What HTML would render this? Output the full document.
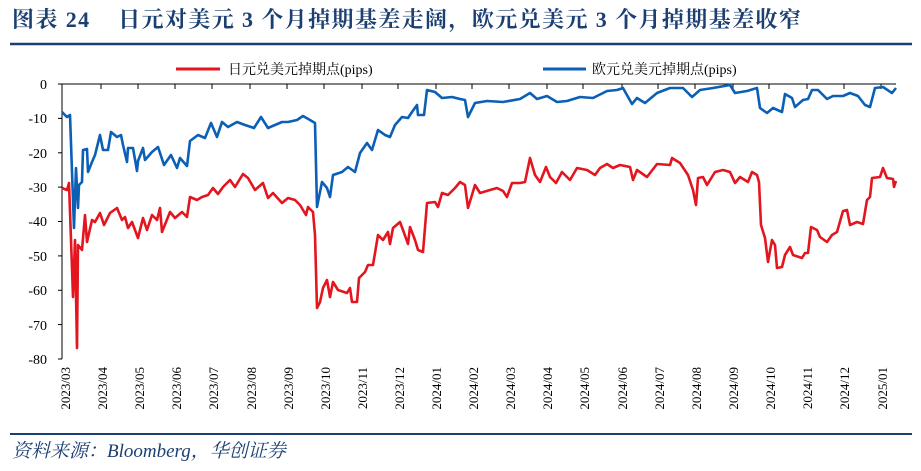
<!DOCTYPE html>
<html><head><meta charset="utf-8"><style>
body{margin:0;width:921px;height:471px;background:#fff;overflow:hidden;position:relative;font-family:"Liberation Serif","Noto Serif CJK SC",serif}
.t{position:absolute;left:12px;top:3px;font-size:22px;font-weight:bold;color:#1c3f72;white-space:nowrap;letter-spacing:1.4px;font-family:"Liberation Serif","Noto Serif CJK SC",serif}
.src{position:absolute;left:12px;top:436px;font-size:19px;font-style:italic;color:#1c3f72;font-family:"Liberation Serif","Noto Serif CJK SC",serif}
</style></head><body>
<div class="t">图表 24&nbsp;&nbsp;&nbsp; 日元对美元 3 个月掉期基差走阔，欧元兑美元 3 个月掉期基差收窄</div>
<div class="src">资料来源：Bloomberg，华创证券</div>
<svg width="921" height="471" style="position:absolute;left:0;top:0" font-family="Liberation Serif, Noto Serif CJK SC, serif">
<line x1="10" y1="44" x2="912" y2="44" stroke="#1c3f72" stroke-width="2.5"/>
<line x1="10" y1="434" x2="912" y2="434" stroke="#1c3f72" stroke-width="2"/>
<line x1="176" y1="69" x2="220" y2="69" stroke="#e3161f" stroke-width="3"/>
<text x="228" y="74" font-size="14">日元兑美元掉期点(pips)</text>
<line x1="543" y1="69" x2="586" y2="69" stroke="#0b5fb5" stroke-width="3"/>
<text x="592" y="74" font-size="14">欧元兑美元掉期点(pips)</text>
<g stroke="#000" stroke-width="1">
<line x1="62" y1="84" x2="62" y2="359"/>
<line x1="62" y1="84" x2="896" y2="84"/>
<line x1="58" y1="84" x2="62" y2="84"/><line x1="58" y1="118.4" x2="62" y2="118.4"/><line x1="58" y1="152.8" x2="62" y2="152.8"/><line x1="58" y1="187.1" x2="62" y2="187.1"/><line x1="58" y1="221.5" x2="62" y2="221.5"/><line x1="58" y1="255.9" x2="62" y2="255.9"/><line x1="58" y1="290.3" x2="62" y2="290.3"/><line x1="58" y1="324.6" x2="62" y2="324.6"/><line x1="58" y1="359" x2="62" y2="359"/>
<path d="M101 84v5M138 84v5M175 84v5M212 84v5M250 84v5M287 84v5M324 84v5M362 84v5M398 84v5M436 84v5M472 84v5M509 84v5M547 84v5M583 84v5M622 84v5M658 84v5M695 84v5M733 84v5M769 84v5M807 84v5M844 84v5M881 84v5"/>
</g>
<g font-size="14" text-anchor="end">
<text x="47" y="89">0</text><text x="47" y="123">-10</text><text x="47" y="158">-20</text><text x="47" y="192">-30</text><text x="47" y="226">-40</text><text x="47" y="261">-50</text><text x="47" y="295">-60</text><text x="47" y="330">-70</text><text x="47" y="364">-80</text>
</g>
<g font-size="13" text-anchor="end">
<text transform="translate(70,367) rotate(-90)">2023/03</text>
<text transform="translate(107,367) rotate(-90)">2023/04</text>
<text transform="translate(144,367) rotate(-90)">2023/05</text>
<text transform="translate(181,367) rotate(-90)">2023/06</text>
<text transform="translate(218,367) rotate(-90)">2023/07</text>
<text transform="translate(256,367) rotate(-90)">2023/08</text>
<text transform="translate(293,367) rotate(-90)">2023/09</text>
<text transform="translate(330,367) rotate(-90)">2023/10</text>
<text transform="translate(367,367) rotate(-90)">2023/11</text>
<text transform="translate(404,367) rotate(-90)">2023/12</text>
<text transform="translate(441,367) rotate(-90)">2024/01</text>
<text transform="translate(478,367) rotate(-90)">2024/02</text>
<text transform="translate(515,367) rotate(-90)">2024/03</text>
<text transform="translate(552,367) rotate(-90)">2024/04</text>
<text transform="translate(589,367) rotate(-90)">2024/05</text>
<text transform="translate(627,367) rotate(-90)">2024/06</text>
<text transform="translate(664,367) rotate(-90)">2024/07</text>
<text transform="translate(701,367) rotate(-90)">2024/08</text>
<text transform="translate(738,367) rotate(-90)">2024/09</text>
<text transform="translate(775,367) rotate(-90)">2024/10</text>
<text transform="translate(812,367) rotate(-90)">2024/11</text>
<text transform="translate(849,367) rotate(-90)">2024/12</text>
<text transform="translate(887,367) rotate(-90)">2025/01</text>
</g>
<polyline fill="none" stroke="#0b5fb5" stroke-width="2.6" stroke-linejoin="round" points="62,112 67,117 70,115 74,228 76,168 78,208 79,185 82,182 83,150 87,149 88,172 92,162 95,155 100,135 103,150 108,150 111,132 117,137 121,135 123,145 127,162 128,148 133,148 137,171 138,161 143,148 145,160 152,152 158,147 164,165 171,155 177,168 180,158 187,166 190,141 198,135 205,138 211,123 217,137 222,122 228,127 237,122 245,125 254,128 261,117 268,128 275,125 282,122 288,122 297,120 303,116 310,120 315,123 317,207 322,182 327,188 330,197 333,175 342,172 348,167 355,172 360,153 367,143 372,150 378,130 385,135 390,137 395,125 402,117 408,118 412,112 417,105 418,115 424,115 427,90 435,92 442,98 452,97 460,99 465,100 468,117 475,103 487,101 503,102 520,99 530,93 537,99 547,96 557,102 567,101 580,97 593,98 607,91 617,90 623,88 632,104 637,98 645,103 657,93 670,88 683,88 692,97 700,90 713,88 730,85 735,93 747,91 757,88 760,108 767,113 773,108 782,112 785,94 792,98 795,107 803,100 808,99 812,90 818,90 827,99 833,96 843,96 850,93 858,96 865,105 870,107 875,88 883,87 892,93 896,88"/>
<polyline fill="none" stroke="#e3161f" stroke-width="2.6" stroke-linejoin="round" points="62,188 67,190 69,183 73,297 75,240 77,348 78,245 82,250 85,215 87,242 92,220 95,222 100,213 104,225 110,213 117,208 122,220 125,217 128,228 132,222 138,238 143,218 147,230 152,215 157,220 160,208 162,232 170,212 175,218 182,212 187,217 190,197 197,200 202,197 208,195 213,188 218,194 223,187 230,180 235,187 243,174 248,178 255,190 263,183 268,198 273,193 282,203 288,198 295,200 300,205 306,215 308,207 313,212 315,235 317,308 320,302 323,288 327,280 330,297 333,282 338,290 347,293 350,288 352,302 357,302 359,278 365,272 368,265 373,265 378,235 383,240 388,232 390,244 393,228 400,222 403,230 408,244 410,227 415,240 418,250 423,252 427,203 435,202 438,207 442,193 448,195 455,188 460,182 465,185 468,208 475,185 480,193 490,190 497,188 503,191 507,197 512,183 520,183 525,182 530,158 535,175 540,182 546,167 550,177 556,183 562,172 570,180 577,168 587,170 595,175 600,168 607,164 613,168 620,165 630,167 633,180 637,170 647,177 657,164 670,165 672,158 680,163 688,175 693,190 696,205 698,178 703,177 707,185 715,172 723,170 730,172 735,183 740,177 748,182 752,172 757,175 759,182 761,225 765,238 768,262 772,240 775,245 777,268 782,267 785,255 790,247 793,255 802,258 805,253 808,253 811,227 817,230 820,237 827,242 832,235 837,232 843,211 847,210 850,225 857,222 863,224 867,200 870,197 872,178 880,177 883,168 887,178 893,179 894,187 896,181"/>
</svg>
</body></html>
